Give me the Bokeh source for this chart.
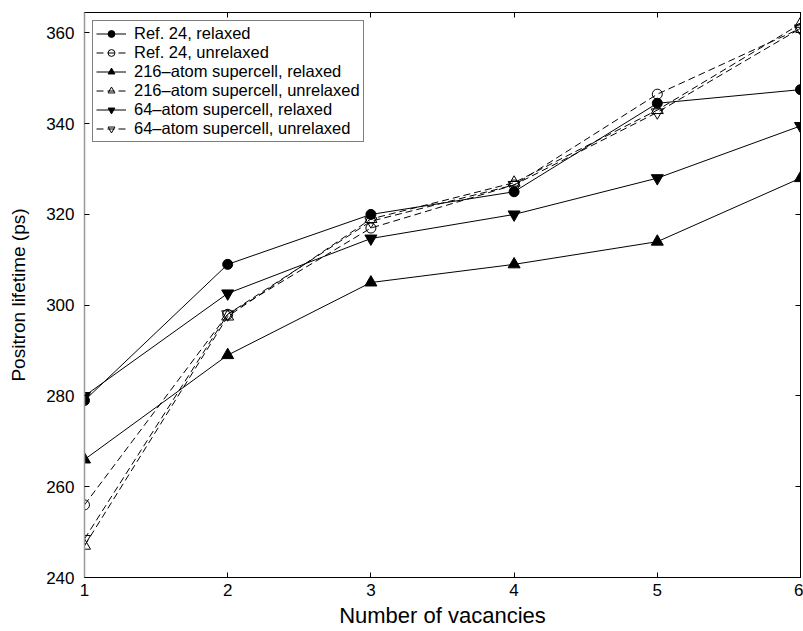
from bokeh.plotting import figure
from bokeh.models import LinearAxis, FixedTicker, Legend, LegendItem
from bokeh.embed import file_html
from bokeh.resources import INLINE

vacancies = [1, 2, 3, 4, 5, 6]
ref24_relaxed = [279, 309, 320, 325, 344.5, 347.5]
ref24_unrelaxed = [256, 298, 317, 326.5, 346.5, 361]
sc216_relaxed = [266, 289, 305, 309, 314, 328]
sc216_unrelaxed = [247, 297.5, 319, 327, 343, 362]
sc64_relaxed = [280, 302.6, 314.7, 320, 328, 339.5]
sc64_unrelaxed = [248.5, 298, 318.5, 326.5, 342.5, 361]

y_ticks = [240, 260, 280, 300, 320, 340, 360]
x_ticks = [1, 2, 3, 4, 5, 6]

FONT = "Liberation Sans"

p = figure(width=803, height=631, x_range=(1, 6), y_range=(240, 364.5),
           output_backend="svg", toolbar_location=None,
           min_border_left=84, min_border_top=12, min_border_right=3,
           min_border_bottom=54, x_axis_location=None, y_axis_location=None)
p.grid.visible = False
p.outline_line_color = "black"
p.outline_line_width = 1
p.background_fill_color = "white"
p.border_fill_color = "white"

def style_axis(ax, labels=True):
    ax.major_tick_in = 5
    ax.major_tick_out = 0
    ax.minor_tick_in = 0
    ax.minor_tick_out = 0
    ax.axis_line_color = "black"
    ax.major_tick_line_color = "black"
    ax.major_label_text_font = FONT
    ax.major_label_text_color = "black"
    ax.axis_label_text_font = FONT
    ax.axis_label_text_font_style = "normal"
    ax.axis_label_text_color = "black"
    if not labels:
        ax.major_label_overrides = {t: "" for t in ax.ticker.ticks}
        ax.major_label_standoff = 0

xb = LinearAxis(ticker=FixedTicker(ticks=x_ticks), axis_label="Number of vacancies")
style_axis(xb)
xb.major_label_text_font_size = "17px"
xb.axis_label_text_font_size = "22px"
xb.major_label_standoff = 6
xb.axis_label_standoff = 4
p.add_layout(xb, "below")

yl = LinearAxis(ticker=FixedTicker(ticks=y_ticks), axis_label="Positron lifetime (ps)")
style_axis(yl)
yl.major_label_text_font_size = "17px"
yl.axis_label_text_font_size = "19px"
yl.major_label_standoff = 10
yl.axis_label_standoff = 14
yl.axis_line_color = "#999999"
yl.axis_line_width = 1.5
p.add_layout(yl, "left")

xt = LinearAxis(ticker=FixedTicker(ticks=x_ticks))
style_axis(xt, labels=False)
p.add_layout(xt, "above")

yr = LinearAxis(ticker=FixedTicker(ticks=y_ticks))
style_axis(yr, labels=False)
p.add_layout(yr, "right")

series = [
    ("Ref. 24, relaxed", ref24_relaxed, "circle", True, "solid", 10),
    ("Ref. 24, unrelaxed", ref24_unrelaxed, "circle", False, "dashed", 10),
    ("216\u2013atom supercell, relaxed", sc216_relaxed, "triangle", True, "solid", 12),
    ("216\u2013atom supercell, unrelaxed", sc216_unrelaxed, "triangle", False, "dashed", 12),
    ("64\u2013atom supercell, relaxed", sc64_relaxed, "inverted_triangle", True, "solid", 12),
    ("64\u2013atom supercell, unrelaxed", sc64_unrelaxed, "inverted_triangle", False, "dashed", 12),
]

items = []
for label, ys, marker, filled, dash, size in series:
    ln = p.line(vacancies, ys, line_color="black", line_width=1,
                line_dash=("7 4" if dash == "dashed" else "solid"))
    sc = p.scatter(vacancies, ys, marker=marker, size=size, line_color="black",
                   line_width=1, fill_color=("black" if filled else None))
    items.append(LegendItem(label=label, renderers=[ln, sc]))

legend = Legend(items=items, location="top_left")
legend.label_text_font = FONT
legend.label_text_font_size = "16.5px"
legend.label_text_color = "black"
legend.border_line_color = "black"
legend.border_line_width = 1
legend.background_fill_color = "white"
legend.background_fill_alpha = 1
legend.margin = 8
legend.padding = 3
legend.spacing = 0
legend.glyph_width = 30
legend.glyph_height = 17
legend.label_height = 17
legend.label_standoff = 8
p.add_layout(legend, "center")

open("out.html", "w").write(file_html(p, INLINE))
